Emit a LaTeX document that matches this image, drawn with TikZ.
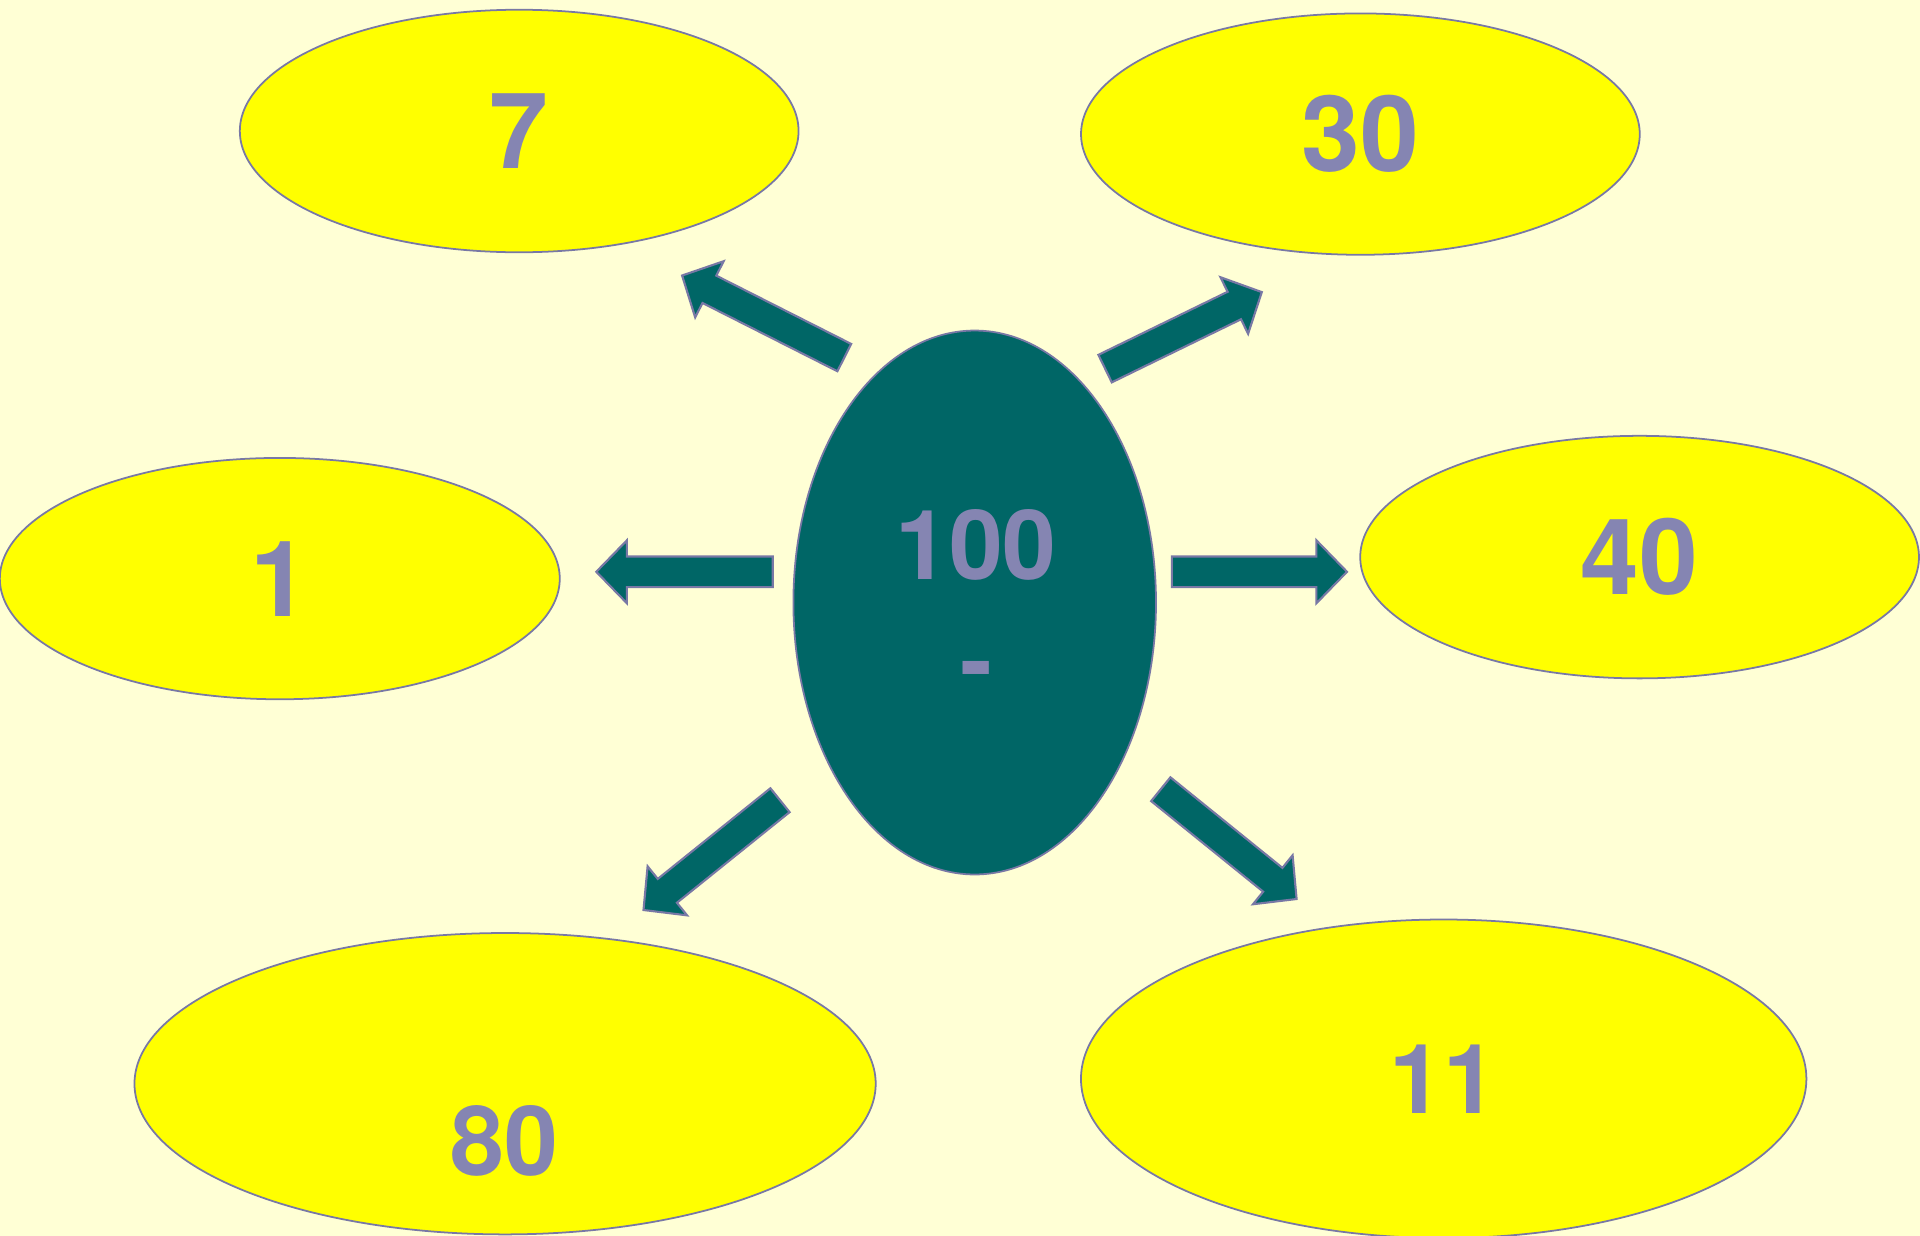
\documentclass[tikz,border=0pt]{standalone}
\usepackage{fontspec}
\setmainfont{TeX Gyre Heros}
\usetikzlibrary{shapes,calc}
\definecolor{paper}{RGB}{255,255,213}
\definecolor{bubblefill}{RGB}{255,255,0}
\definecolor{hubcol}{RGB}{0,102,102}
\definecolor{numcol}{RGB}{133,133,178}
\definecolor{rimcol}{RGB}{120,120,165}
\tikzstyle{bubble}=[ellipse,draw=rimcol,fill=bubblefill,line width=0.5pt,inner sep=0pt]
\tikzstyle{hub}=[ellipse,draw=rimcol,fill=hubcol,line width=0.5pt,inner sep=0pt]
\tikzstyle{bignum}=[text=numcol,font=\bfseries\fontsize{30}{36}\selectfont]
\tikzstyle{num}=[text=numcol,font=\bfseries\fontsize{27.5}{33}\selectfont]
\tikzstyle{blockarrow}=[draw=rimcol,fill=hubcol,line width=0.6pt,line join=miter]

\begin{document}
\begin{tikzpicture}[x=0.01cm, y=-0.01cm]

    \path[fill=paper, use as bounding box] (0,0) rectangle (1920,1236);

    % centre
    \node[hub, minimum width=3.624cm, minimum height=5.436cm] (hub) at (974.7,602.5) {};
    \node[num] (n100) at (976,545) {100};
    \node[num, anchor=base] (dash) at (976.5,694) {-};

    % outer bubbles
    \foreach \x/\y/\w/\h/\name/\txt in {519.2/131.0/5.584/2.424/b7/7, 1360.4/134.1/5.584/2.412/b30/30, 279.8/578.6/5.596/2.412/b1/1, 1639.6/557.1/5.584/2.424/b40/40}
        \node[bubble, bignum, minimum width=\w cm, minimum height=\h cm] (\name) at (\x,\y) {\txt};

    \node[bubble, minimum width=7.408cm, minimum height=3.012cm] (b80) at (505.1,1083.7) {};
    \node[num] (n80) at (504.5,1141.2) {80};
    \node[bubble, num, minimum width=7.25cm, minimum height=3.184cm] (b11) at (1443.7,1078.8) {11};

    % block arrows, tail -> tip
    \foreach \x/\y/\name in {772.7/571.8/lt, 596.3/571.8/lh, 1171.8/571.8/rt, 1347/571.8/rh, 844.3/357.6/ult, 682.1/275.5/ulh, 1105.1/368.6/urt, 1261.8/292.1/urh, 780/800.2/dlt, 643.5/910/dlh, 1160.8/789.2/drt, 1296.6/899/drh}
        \coordinate (\name) at (\x,\y);

    \foreach \source/\dest in {lt/lh, rt/rh, ult/ulh, urt/urh, dlt/dlh, drt/drh} {
        \coordinate (neck) at ($(\dest)!8.7pt!(\source)$);
        \draw[blockarrow] ($(\source)!4.35pt!90:(\dest)$) -- ($(neck)!4.35pt!90:(\dest)$)
            -- ($(neck)!8.95pt!90:(\dest)$) -- (\dest) -- ($(neck)!8.95pt!-90:(\dest)$)
            -- ($(neck)!4.35pt!-90:(\dest)$) -- ($(\source)!4.35pt!-90:(\dest)$) -- cycle;
    }

\end{tikzpicture}
\end{document}
